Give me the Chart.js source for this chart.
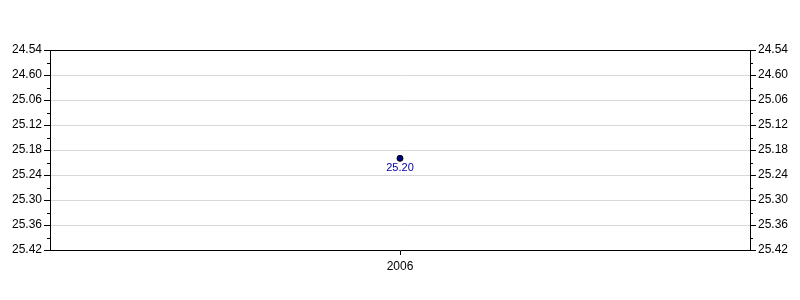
<!DOCTYPE html>
<html>
<head>
<meta charset="utf-8">
<script src="https://cdn.jsdelivr.net/npm/chart.js@4/dist/chart.umd.min.js"></script>
<style>
  html, body { margin: 0; padding: 0; background: #fff; }
  #wrap { width: 800px; height: 300px; }
</style>
</head>
<body>
<div id="wrap"><canvas id="myChart"></canvas></div>
<script>
// data
const years = ["2006"];
const times = [25.20];
const yTickLabels = ["24.54", "24.60", "25.06", "25.12", "25.18", "25.24", "25.30", "25.36", "25.42"];

// axis runs in seconds: 24.54 -> 24*60+54
const toSec = (v) => Math.floor(v) * 60 + Math.round((v % 1) * 100);
const yMin = 1494, yMax = 1542, yStep = 6;

const font = { family: "'Liberation Sans', Arial, sans-serif", size: 12 };

// frame, minor ticks and value labels
const extras = {
  id: "extras",
  afterDraw(chart) {
    const ctx = chart.ctx;
    const a = chart.chartArea;
    const y = chart.scales.y;
    ctx.save();
    ctx.strokeStyle = "#000";
    ctx.lineWidth = 1;
    ctx.beginPath();
    ctx.moveTo(a.left, a.top + 0.5);
    ctx.lineTo(a.right, a.top + 0.5);
    for (let v = yMin + yStep / 2; v < yMax; v += yStep) {
      const py = Math.round(y.getPixelForValue(v)) + 0.5;
      ctx.moveTo(a.left - 3, py);
      ctx.lineTo(a.left, py);
      ctx.moveTo(a.right, py);
      ctx.lineTo(a.right + 3, py);
    }
    ctx.stroke();

    ctx.fillStyle = "#0000aa";
    ctx.font = "11px " + font.family;
    ctx.textAlign = "center";
    ctx.textBaseline = "top";
    chart.getDatasetMeta(0).data.forEach((pt, i) => {
      ctx.fillText(times[i].toFixed(2), pt.x, pt.y + 4);
    });
    ctx.restore();
  },
};

const yAxisCommon = {
  type: "linear",
  reverse: true,
  min: yMin,
  max: yMax,
  grid: {
    color: (c) => (c.tick && c.tick.value === yMin ? "rgba(0,0,0,0)" : "#d8d8d8"),
    tickColor: "#000",
    tickLength: 6,
    drawOnChartArea: true,
  },
  border: { color: "#000" },
  ticks: {
    stepSize: yStep,
    color: "#000",
    font,
    padding: 2,
    callback: (value) => yTickLabels[Math.round((value - yMin) / yStep)],
  },
};

const config = {
  type: "line",
  data: {
    labels: years,
    datasets: [
      {
        label: "Time",
        data: times.map(toSec),
        showLine: false,
        pointRadius: 3,
        pointBackgroundColor: "#000080",
        pointBorderColor: "#000",
        pointBorderWidth: 1,
      },
    ],
  },
  options: {
    responsive: true,
    maintainAspectRatio: false,
    animation: false,
    layout: { padding: { top: 50, left: 0, right: 0, bottom: 0 } },
    plugins: {
      legend: { display: false },
      tooltip: { enabled: false },
    },
    scales: {
      x: {
        offset: true,
        grid: {
          drawOnChartArea: false,
          tickColor: "#000",
          tickLength: 5,
        },
        border: { color: "#000" },
        ticks: { color: "#000", font, padding: 4 },
        afterFit: (s) => { s.height = 50; },
      },
      y: {
        ...yAxisCommon,
        position: "left",
        afterFit: (s) => { s.width = 50; },
      },
      y2: {
        ...yAxisCommon,
        position: "right",
        grid: { ...yAxisCommon.grid, drawOnChartArea: false },
        afterFit: (s) => { s.width = 50; },
      },
    },
  },
  plugins: [extras],
};

const myChart = new Chart(document.getElementById("myChart"), config);
</script>
</body>
</html>
